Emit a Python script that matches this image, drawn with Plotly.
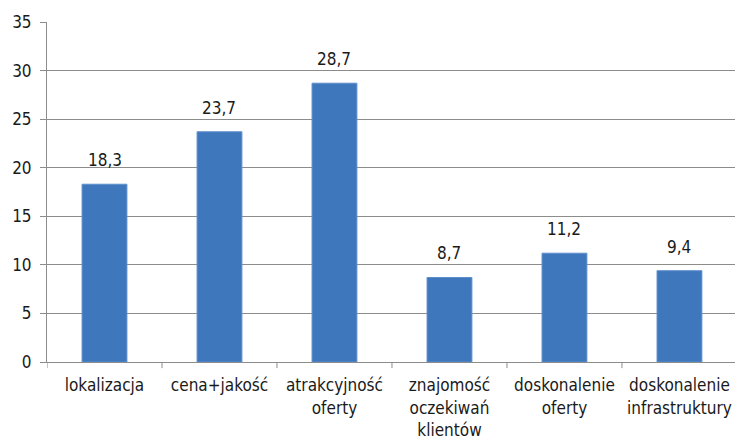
import plotly.graph_objects as go

categories = [
    "lokalizacja",
    "cena+jakość",
    "atrakcyjność<br>oferty",
    "znajomość<br>oczekiwań<br>klientów",
    "doskonalenie<br>oferty",
    "doskonalenie<br>infrastruktury",
]
values = [18.3, 23.7, 28.7, 8.7, 11.2, 9.4]
y_ticks = [0, 5, 10, 15, 20, 25, 30, 35]

labels = [f"{v:.1f}".replace(".", ",") for v in values]

FONT = "DejaVu Sans Condensed, DejaVu Sans, sans-serif"
GRID = "#8c8c8c"
TEXT = "#1a1a1a"

xs = list(range(len(categories)))

fig = go.Figure(
    go.Bar(
        x=xs,
        y=values,
        marker=dict(color="#3f77bd", line=dict(color="#5d8fcc", width=1)),
        width=0.39,
    )
)

# Value labels above each bar
for x, v, t in zip(xs, values, labels):
    fig.add_annotation(
        x=x, y=v, text=t, showarrow=False,
        yanchor="bottom", yshift=12,
        font=dict(family=FONT, size=17, color=TEXT),
    )

fig.update_layout(
    width=735,
    height=441,
    margin=dict(l=47, r=0, t=22, b=79),
    paper_bgcolor="white",
    plot_bgcolor="white",
    showlegend=False,
    font=dict(family=FONT, size=17, color=TEXT),
    xaxis=dict(
        tickmode="array",
        tickvals=xs,
        ticktext=categories,
        range=[-0.5, 5.483],
        showgrid=False,
        showline=True,
        linecolor=GRID,
        linewidth=1,
        ticks="",
        zeroline=False,
        automargin=False,
        ticklabelstandoff=8,
        tickfont=dict(family=FONT, size=17, color=TEXT),
    ),
    yaxis=dict(
        range=[0, 35],
        tickvals=y_ticks,
        showgrid=True,
        gridcolor=GRID,
        gridwidth=1,
        showline=True,
        linecolor=GRID,
        linewidth=1,
        ticks="outside",
        ticklen=6,
        tickcolor=GRID,
        ticklabelstandoff=5,
        zeroline=False,
        tickfont=dict(family=FONT, size=17, color=TEXT),
    ),
)

# Tick marks between categories on the category axis
for b in [i + 0.5 for i in range(-1, len(categories))]:
    fig.add_shape(
        type="line", xref="x", yref="paper",
        x0=b, x1=b, y0=0, y1=-0.018,
        line=dict(color=GRID, width=1),
    )

fig.write_html("out.html")
